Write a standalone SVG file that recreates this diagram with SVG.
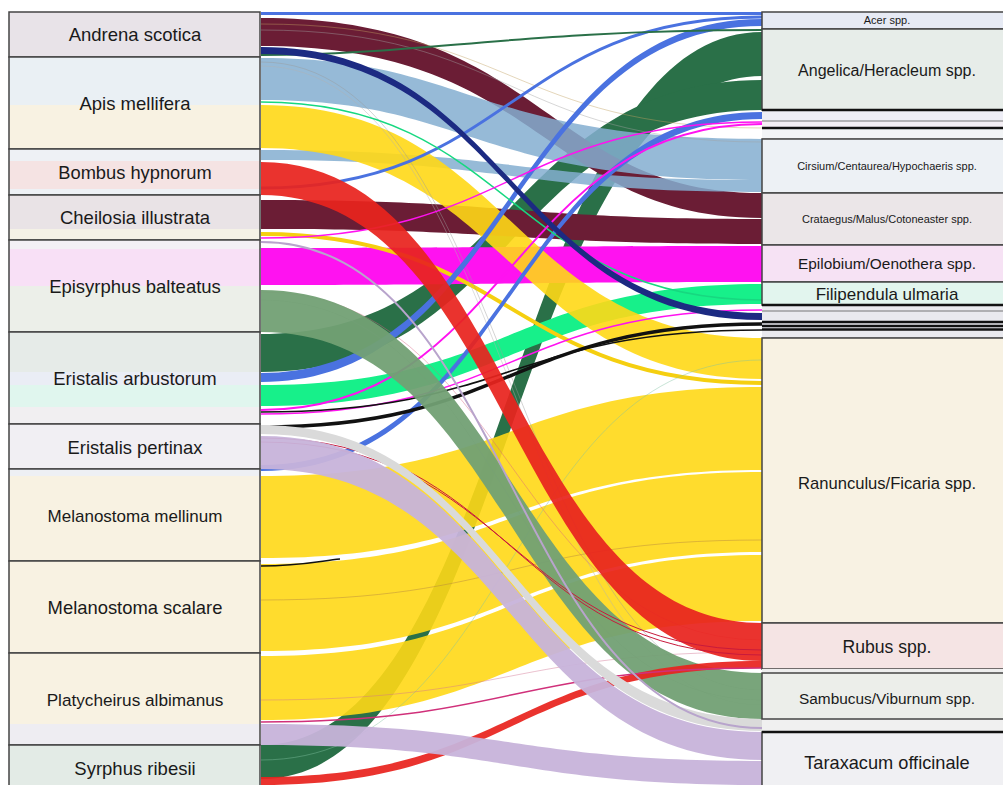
<svg xmlns="http://www.w3.org/2000/svg" width="1003" height="785" viewBox="0 0 1003 785">
  <style>
    .lbl { font-family: "Liberation Sans", Arial, sans-serif; fill: #1a1a1a; text-anchor: middle; }
    .box { stroke: #444; stroke-width: 1.5; fill: none; }
    .thick { stroke: #111; stroke-width: 2.6; }
    .thin { stroke: #777; stroke-width: 1.1; }
    .f { stroke: none; }
    .maroon { fill: #6b1d35; }
    .navy { fill: #1c2a82; }
    .lblue { fill: #84aed0; opacity: 0.85; }
    .yellow { fill: #ffd816; opacity: 0.9; }
    .red { fill: #e8241e; opacity: 0.93; }
    .mag { fill: #ff12f0; }
    .ggreen { fill: #72a074; opacity: 0.95; }
    .dgreen { fill: #2a7048; }
    .blue { fill: #4a72e0; }
    .sgreen { fill: #17f08a; }
    .lav { fill: #c7b3da; opacity: 0.95; }
    .lgrey { fill: #dadada; }
    .ln { fill: none; }
    .faint { fill: none; stroke-width: 0.8; opacity: 0.55; }
  </style>

  <rect x="0" y="0" width="1003" height="785" fill="#ffffff"/>

  <!-- connectors: pollinator to plant flows -->
  <g id="flows">
    <!-- dark green bands toward Angelica/Heracleum -->
    <path class="f dgreen" d="M261,745 C511,745 511,32 762,32 L762,76 C511,76 511,779 261,779 Z"/>
    <path class="f dgreen" d="M261,334 C511,334 511,80 762,80 L762,110 C511,110 511,372 261,372 Z"/>

    <!-- Melanostoma / Platycheirus to Ranunculus/Ficaria -->
    <path class="f yellow" d="M261,476 C511,476 511,387 762,387 L762,470 C511,470 511,558 261,558 Z"/>
    <path class="f yellow" d="M261,564 C511,564 511,472 762,472 L762,552 C511,552 511,651 261,651 Z"/>
    <path class="f yellow" d="M261,656 C511,656 511,555 762,555 L762,621 C511,621 511,720 261,720 Z"/>

    <!-- maroon: Andrena and Cheilosia to Crataegus -->
    <path class="f maroon" d="M261,18 C545,18 545,193 762,193 L762,218 C545,218 545,46 261,46 Z"/>
    <path class="f maroon" d="M261,200 C511,200 511,219 762,219 L762,244 C511,244 511,229 261,229 Z"/>

    <!-- light blue to Cirsium -->
    <path class="f lblue" d="M261,58 C470,58 470,139 762,139 L762,180 C470,180 470,100 261,100 Z"/>
    <path class="f lblue" d="M261,150 C511,150 511,180 762,180 L762,192 C511,192 511,160 261,160 Z"/>

    <!-- magenta: Episyrphus to Epilobium -->
    <path class="f mag" d="M261,248 C511,248 511,246 762,246 L762,282 C511,282 511,285 261,285 Z"/>

    <!-- spring green: Eristalis arbustorum to Filipendula -->
    <path class="f sgreen" d="M261,385 C511,385 511,284 762,284 L762,304 C511,304 511,406 261,406 Z"/>

    <!-- Apis and Cheilosia to Ranunculus -->
    <path class="f yellow" d="M261,105 C511,105 511,338 762,338 L762,379 C511,379 511,148 261,148 Z"/>
    <path class="ln" stroke="#f5cf10" stroke-width="4" d="M261,234 C511,234 511,383 762,383"/>

    <!-- faint minor threads -->
    <path class="faint" stroke="#9a9a9a" d="M261,62 C511,62 511,690 762,690"/>
    <path class="faint" stroke="#b0b0b0" d="M261,66 C511,66 511,705 762,705"/>
    <path class="faint" stroke="#c0a060" d="M261,24 C511,24 511,128 762,128"/>
    <path class="faint" stroke="#a0a0a0" d="M261,30 C511,30 511,142 762,142"/>
    <path class="faint" stroke="#d86080" d="M261,292 C511,292 511,640 762,640"/>
    <path class="faint" stroke="#909090" d="M261,300 C511,300 511,700 762,700"/>
    <path class="faint" stroke="#b08040" d="M261,600 C511,600 511,540 762,540"/>
    <path class="faint" stroke="#80c0a0" d="M261,760 C511,760 511,360 762,360"/>
    <path class="faint" stroke="#d07090" d="M261,700 C511,700 511,652 762,652"/>

    <!-- blue threads to Acer and small plants -->
    <path class="ln" stroke="#4a72e0" stroke-width="3" d="M261,13.5 L762,13.5"/>
    <path class="ln" stroke="#4a72e0" stroke-width="3" d="M261,188 C511,188 511,17 762,17"/>
    <path class="f blue" d="M261,373 C511,373 511,19 762,19 L762,26 C511,26 511,382 261,382 Z"/>
    <path class="f blue" d="M261,465 C511,465 511,112 762,112 L762,119 C511,119 511,471 261,471 Z"/>

    <!-- thin threads -->
    <path class="ln" stroke="#2a7048" stroke-width="2" d="M261,55 C420,55 520,30 762,30"/>
    <path class="ln" stroke="#17d880" stroke-width="1.5" d="M261,102 C511,102 511,300 762,300"/>
    <path class="ln" stroke="#ff12f0" stroke-width="2" d="M261,410 C511,410 511,124 762,124"/>
    <path class="ln" stroke="#ff12f0" stroke-width="1.5" d="M261,238 C511,238 511,122 762,122"/>
    <path class="ln" stroke="#ff12f0" stroke-width="1.5" d="M261,414 C511,414 511,310 762,310"/>
    <path class="ln" stroke="#111" stroke-width="3.5" d="M261,427 C511,427 511,324 762,324"/>
    <path class="ln" stroke="#111" stroke-width="1.6" d="M261,412 C511,412 511,330 762,330"/>
    <path class="ln" stroke="#111" stroke-width="1.6" d="M261,566 C300,566 320,561 340,559"/>

    <!-- navy: Andrena to small plant -->
    <path class="f navy" d="M261,47 C511,47 511,313 762,313 L762,320 C511,320 511,54 261,54 Z"/>

    <!-- grey-green: Episyrphus to Sambucus -->
    <path class="f ggreen" d="M261,290 C511,290 511,673 762,673 L762,719 C511,719 511,332 261,332 Z"/>

    <!-- red: Bombus and Syrphus to Rubus -->
    <path class="f red" d="M261,162 C511,162 511,623 762,623 L762,661 C511,661 511,195 261,195 Z"/>
    <path class="f red" d="M261,777 C511,777 511,661 762,661 L762,668 C511,668 511,785 261,785 Z"/>
    <path class="ln" stroke="#c81a3c" stroke-width="1" d="M261,438 C511,438 511,655 762,655"/>
    <path class="ln" stroke="#c81a3c" stroke-width="1" d="M261,442 C511,442 511,650 762,650"/>
    <path class="ln" stroke="#d0307a" stroke-width="1.5" d="M261,722 C511,722 511,668 762,668"/>

    <!-- lavender and grey: Eristalis pertinax and Platycheirus to Taraxacum -->
    <path class="f lgrey" d="M261,425 C511,425 511,719 762,719 L762,731 C511,731 511,434 261,434 Z"/>
    <path class="f lav" d="M261,436 C511,436 511,732 762,732 L762,760 C511,760 511,469 261,469 Z"/>
    <path class="f lav" d="M261,724 C511,724 511,761 762,761 L762,785 C511,785 511,745 261,745 Z"/>
    <path class="ln" stroke="#b8a4cc" stroke-width="2" d="M261,242 C511,242 511,728 762,728"/>
  </g>

  <!-- pollinator column -->
  <g id="node-andrena-scotica">
    <rect x="9" y="12" width="251" height="45" fill="#e8e3e8"/>
    <rect class="box" x="9" y="12" width="251" height="45"/>
    <text class="lbl" x="135" y="41" font-size="18.5">Andrena scotica</text>
  </g>
  <g id="node-apis-mellifera">
    <rect x="9" y="57" width="251" height="48" fill="#eaf0f4"/>
    <rect x="9" y="105" width="251" height="44" fill="#f8f2e2"/>
    <rect class="box" x="9" y="57" width="251" height="92"/>
    <text class="lbl" x="135" y="110" font-size="18.5">Apis mellifera</text>
  </g>
  <g id="node-bombus-hypnorum">
    <rect x="9" y="149" width="251" height="46" fill="#eef1f5"/>
    <rect x="9" y="161" width="251" height="28" fill="#f5e3e3"/>
    <rect class="box" x="9" y="149" width="251" height="46"/>
    <text class="lbl" x="135" y="179" font-size="18.3">Bombus hypnorum</text>
  </g>
  <g id="node-cheilosia-illustrata">
    <rect x="9" y="195" width="251" height="45" fill="#e9e3e6"/>
    <rect x="9" y="229" width="251" height="11" fill="#f4f1e6"/>
    <rect class="box" x="9" y="195" width="251" height="45"/>
    <text class="lbl" x="135" y="224" font-size="18.5">Cheilosia illustrata</text>
  </g>
  <g id="node-episyrphus-balteatus">
    <rect x="9" y="240" width="251" height="92" fill="#ecefe9"/>
    <rect x="9" y="240" width="251" height="9" fill="#f3f0f5"/>
    <rect x="9" y="249" width="251" height="37" fill="#f8e0f6"/>
    <rect class="box" x="9" y="240" width="251" height="92"/>
    <text class="lbl" x="135" y="293" font-size="18.5">Episyrphus balteatus</text>
  </g>
  <g id="node-eristalis-arbustorum">
    <rect x="9" y="332" width="251" height="92" fill="#e6ebe8"/>
    <rect x="9" y="372" width="251" height="13" fill="#eaedf5"/>
    <rect x="9" y="385" width="251" height="22" fill="#e0f6ee"/>
    <rect x="9" y="407" width="251" height="17" fill="#f1eff1"/>
    <rect class="box" x="9" y="332" width="251" height="92"/>
    <text class="lbl" x="135" y="385" font-size="18.5">Eristalis arbustorum</text>
  </g>
  <g id="node-eristalis-pertinax">
    <rect x="9" y="424" width="251" height="45" fill="#f1eff3"/>
    <rect class="box" x="9" y="424" width="251" height="45"/>
    <text class="lbl" x="135" y="454" font-size="18.4">Eristalis pertinax</text>
  </g>
  <g id="node-melanostoma-mellinum">
    <rect x="9" y="469" width="251" height="92" fill="#f8f2e2"/>
    <rect x="9" y="469" width="251" height="7" fill="#eef0f4"/>
    <rect class="box" x="9" y="469" width="251" height="92"/>
    <text class="lbl" x="135" y="522" font-size="17">Melanostoma mellinum</text>
  </g>
  <g id="node-melanostoma-scalare">
    <rect x="9" y="561" width="251" height="92" fill="#f8f2e2"/>
    <rect class="box" x="9" y="561" width="251" height="92"/>
    <text class="lbl" x="135" y="614" font-size="18.4">Melanostoma scalare</text>
  </g>
  <g id="node-platycheirus-albimanus">
    <rect x="9" y="653" width="251" height="92" fill="#f8f2e2"/>
    <rect x="9" y="724" width="251" height="21" fill="#eeedf2"/>
    <rect class="box" x="9" y="653" width="251" height="92"/>
    <text class="lbl" x="135" y="706" font-size="17.2">Platycheirus albimanus</text>
  </g>
  <g id="node-syrphus-ribesii">
    <rect x="9" y="745" width="251" height="45" fill="#e3ebe6"/>
    <rect class="box" x="9" y="745" width="251" height="45"/>
    <text class="lbl" x="135" y="775" font-size="18.5">Syrphus ribesii</text>
  </g>

  <!-- plant column -->
  <g id="node-acer">
    <rect x="762" y="12" width="250" height="17" fill="#e6eaf4"/>
    <rect class="box" x="762" y="12" width="250" height="17"/>
    <text class="lbl" x="887" y="24" font-size="11">Acer spp.</text>
  </g>
  <g id="node-angelica-heracleum">
    <rect x="762" y="29" width="250" height="81" fill="#e7ede9"/>
    <rect class="box" x="762" y="29" width="250" height="81"/>
    <text class="lbl" x="887" y="75.5" font-size="16">Angelica/Heracleum spp.</text>
  </g>
  <g id="node-minor-plants-upper">
    <rect x="762" y="110" width="250" height="11" fill="#eeeef6"/>
    <rect x="762" y="121" width="250" height="7" fill="#f3eef4"/>
    <rect x="762" y="128" width="250" height="11" fill="#f2f4f6"/>
    <line class="thin" x1="762" y1="121" x2="1012" y2="121"/>
    <line class="thin" x1="762" y1="139" x2="1012" y2="139"/>
    <line class="thick" x1="762" y1="110" x2="1012" y2="110"/>
    <line class="thick" x1="762" y1="128" x2="1012" y2="128"/>
  </g>
  <g id="node-cirsium-centaurea-hypochaeris">
    <rect x="762" y="139" width="250" height="54" fill="#edf1f5"/>
    <rect class="box" x="762" y="139" width="250" height="54"/>
    <text class="lbl" x="887" y="170" font-size="11">Cirsium/Centaurea/Hypochaeris spp.</text>
  </g>
  <g id="node-crataegus-malus-cotoneaster">
    <rect x="762" y="193" width="250" height="52" fill="#ebe6e8"/>
    <rect class="box" x="762" y="193" width="250" height="52"/>
    <text class="lbl" x="887" y="223" font-size="11">Crataegus/Malus/Cotoneaster spp.</text>
  </g>
  <g id="node-epilobium-oenothera">
    <rect x="762" y="245" width="250" height="37" fill="#f6e2f4"/>
    <rect class="box" x="762" y="245" width="250" height="37"/>
    <text class="lbl" x="887" y="269" font-size="15.4">Epilobium/Oenothera spp.</text>
  </g>
  <g id="node-filipendula-ulmaria">
    <rect x="762" y="282" width="250" height="23" fill="#e2f5ee"/>
    <rect class="box" x="762" y="282" width="250" height="23"/>
    <text class="lbl" x="887" y="300" font-size="17">Filipendula ulmaria</text>
  </g>
  <g id="node-minor-plants-middle">
    <rect x="762" y="305" width="250" height="33" fill="#e9e9ee"/>
    <line class="thin" x1="762" y1="311" x2="1012" y2="311"/>
    <line class="thin" x1="762" y1="338" x2="1012" y2="338"/>
    <line class="thick" x1="762" y1="305" x2="1012" y2="305"/>
    <line class="thick" x1="762" y1="322" x2="1012" y2="322"/>
    <line class="thick" x1="762" y1="326" x2="1012" y2="326" stroke-width="1.5"/>
    <line class="thick" x1="762" y1="329.5" x2="1012" y2="329.5"/>
  </g>
  <g id="node-ranunculus-ficaria">
    <rect x="762" y="338" width="250" height="285" fill="#f8f2e3"/>
    <rect class="box" x="762" y="338" width="250" height="285"/>
    <text class="lbl" x="887" y="489" font-size="16.6">Ranunculus/Ficaria spp.</text>
  </g>
  <g id="node-rubus">
    <rect x="762" y="623" width="250" height="46" fill="#f5e4e4"/>
    <rect class="box" x="762" y="623" width="250" height="46"/>
    <text class="lbl" x="887" y="653" font-size="17.6">Rubus spp.</text>
  </g>
  <g id="node-minor-plant-lower">
    <rect x="762" y="669" width="250" height="4" fill="#eeeeee"/>
    <rect x="762" y="719" width="250" height="13" fill="#f0f0f0"/>
  </g>
  <g id="node-sambucus-viburnum">
    <rect x="762" y="673" width="250" height="46" fill="#eceeea"/>
    <rect class="box" x="762" y="673" width="250" height="46"/>
    <text class="lbl" x="887" y="703.5" font-size="15.4">Sambucus/Viburnum spp.</text>
  </g>
  <g id="node-taraxacum-officinale">
    <rect x="762" y="732" width="250" height="58" fill="#f0f0f3"/>
    <rect class="box" x="762" y="732" width="250" height="58"/>
    <line class="thick" x1="762" y1="732" x2="1012" y2="732"/>
    <text class="lbl" x="887" y="768.5" font-size="18.2">Taraxacum officinale</text>
  </g>
</svg>
